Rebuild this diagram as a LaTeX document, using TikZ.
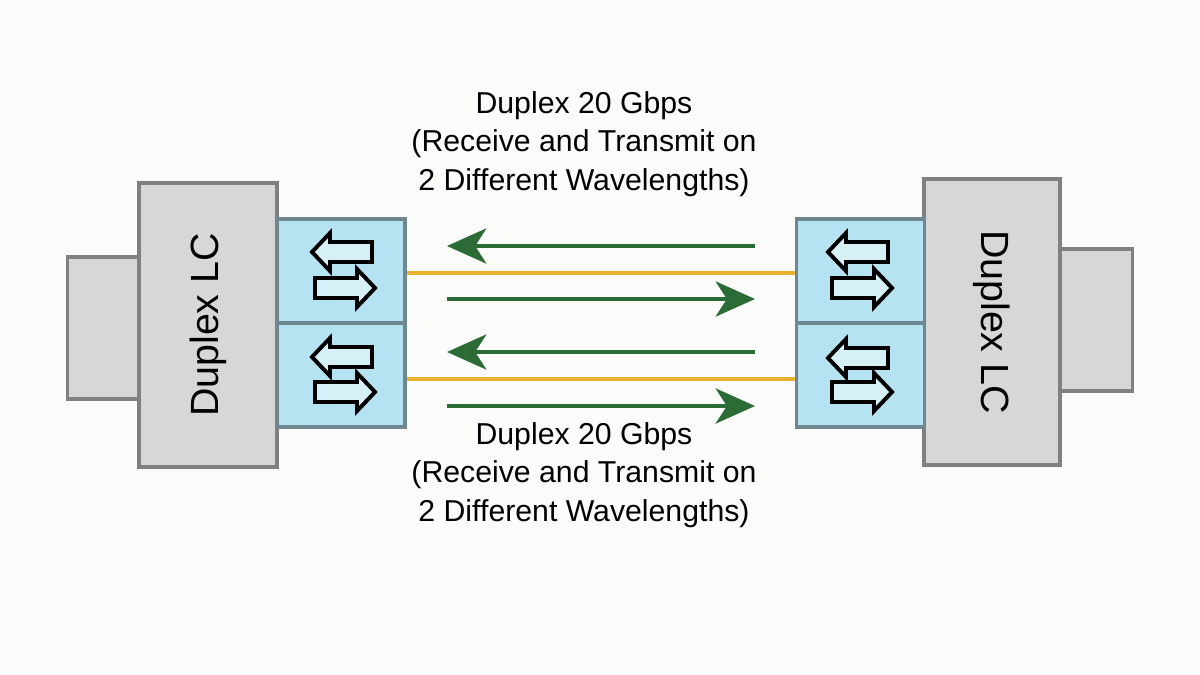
\documentclass[tikz,border=0pt]{standalone}
\usepackage{fontspec}
\setmainfont{Liberation Sans}
\usepackage{xcolor}
\usetikzlibrary{arrows.meta}

\definecolor{bgwhite}{HTML}{FBFBF9}
\definecolor{lcgray}{HTML}{D7D7D7}
\definecolor{lcedge}{HTML}{808080}
\definecolor{portblue}{HTML}{B5E3F1}
\definecolor{portedge}{HTML}{6F8791}
\definecolor{fibre}{HTML}{E8B12E}
\definecolor{signal}{HTML}{2B6B36}

\tikzset{
  lcbody/.style={draw=lcedge, fill=lcgray, line width=2.2pt, inner sep=0pt},
  lcboot/.style={draw=lcedge, fill=lcgray, line width=2.2pt, inner sep=0pt,
    minimum width=1.82cm, minimum height=3.55cm},
  portbox/.style={draw=portedge, fill=portblue, line width=2.2pt, inner sep=0pt,
    minimum width=3.2cm, minimum height=2.6cm},
  hollowarrow/.style={draw=black, line width=2.8pt, fill=portblue!55!white, line join=miter},
  fibreline/.style={draw=fibre, line width=3pt},
  signalarrow/.style={draw=signal, line width=2.8pt,
    -{Stealth[length=28pt, width=25pt, inset=8pt]}},
  caption/.style={align=center, font=\fontsize{21.5}{27.6}\selectfont},
  lclabel/.style={font=\fontsize{28}{32}\selectfont}
}

\begin{document}
\begin{tikzpicture}[x=0.025cm, y=-0.025cm]
                % Canvas
                \fill[bgwhite] (0,0) rectangle (1200,675);
                \useasboundingbox (0,0) rectangle (1200,675);

                % Left connector
                \node[lcboot] (lboot) at (103.5,328) {};
                \node[lcbody, minimum width=3.45cm, minimum height=7.1cm] (lbody) at (208,325) {};
                \node[lclabel, rotate=90] (llabel) at (lbody) {Duplex LC};
                \node[portbox] (ltop) at (341,271) {};
                \node[portbox] (lbot) at (341,375) {};

                % Right connector
                \node[lcboot] (rboot) at (1096,320) {};
                \node[lcbody, minimum width=3.4cm, minimum height=7.15cm] (rbody) at (992,322) {};
                \node[lclabel, rotate=-90] (rlabel) at (rbody) {Duplex LC};
                \node[portbox] (rtop) at (860.5,271) {};
                \node[portbox] (rbot) at (860.5,375) {};

                % Hollow arrows in the ports
                \foreach \px/\py in {312/252, 312/357, 828/252, 828/358}
                    \draw[hollowarrow, shift={(\px,\py)}]
                        (0,0) -- (18,-19) -- (18,-10) -- (60,-10) -- (60,10) -- (18,10) -- (18,19) -- cycle;
                \foreach \px/\py in {375/288, 375/392, 892/288, 892/392}
                    \draw[hollowarrow, shift={(\px,\py)}]
                        (0,0) -- (-18,-19) -- (-18,-10) -- (-60,-10) -- (-60,10) -- (-18,10) -- (-18,19) -- cycle;

                % Fibres
                \draw[fibreline] (ltop.east |- 0,273) -- (rtop.west |- 0,273);
                \draw[fibreline] (lbot.east |- 0,379) -- (rbot.west |- 0,379);

                % Wavelengths
                \foreach \row/\ya/\yb in {1/246/299, 2/352/406} {
                    \coordinate (rx\row w) at (447,\ya);
                    \coordinate (rx\row e) at (755,\ya);
                    \coordinate (tx\row w) at (447,\yb);
                    \coordinate (tx\row e) at (755,\yb);
                    \draw[signalarrow] (rx\row e) -- (rx\row w);
                    \draw[signalarrow] (tx\row w) -- (tx\row e);
                }

                % Captions
                \node[caption] (topcap) at (584,144)
                    {Duplex 20 Gbps\\(Receive and Transmit on\\2 Different Wavelengths)};
                \node[caption] (botcap) at (584,475)
                    {Duplex 20 Gbps\\(Receive and Transmit on\\2 Different Wavelengths)};
            \end{tikzpicture}
\end{document}
